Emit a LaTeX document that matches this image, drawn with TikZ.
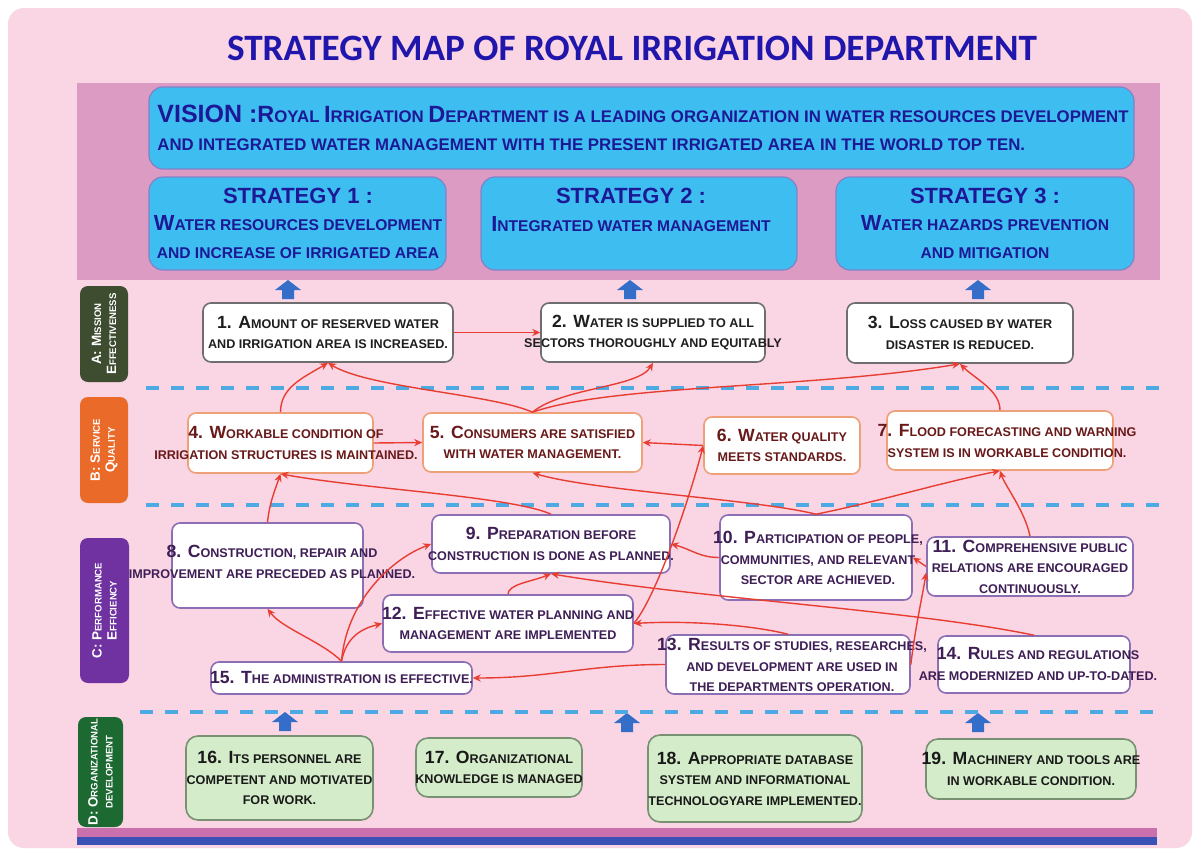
\documentclass[tikz,border=0pt]{standalone}
\usepackage{fontspec}
\setmainfont{Liberation Sans}
\newfontfamily\titlefont{Carlito}
\usetikzlibrary{arrows.meta,fit,calc}
\definecolor{bgpink}{RGB}{250,213,228}
\definecolor{bandpink}{RGB}{219,155,195}
\definecolor{cyanbox}{RGB}{62,190,240}
\definecolor{cyanedge}{RGB}{130,130,200}
\definecolor{navy}{RGB}{28,24,150}
\definecolor{titleblue}{RGB}{32,22,172}
\definecolor{redline}{RGB}{232,62,50}
\definecolor{dashblue}{RGB}{78,170,226}
\definecolor{arrowblue}{RGB}{52,110,200}
\definecolor{labA}{RGB}{62,76,48}
\definecolor{labB}{RGB}{234,106,42}
\definecolor{labC}{RGB}{112,50,160}
\definecolor{labD}{RGB}{28,106,50}
\definecolor{edgeA}{RGB}{110,110,110}
\definecolor{edgeB}{RGB}{238,160,120}
\definecolor{edgeC}{RGB}{140,110,180}
\definecolor{fillD}{RGB}{212,236,202}
\definecolor{edgeD}{RGB}{120,145,115}
\definecolor{txtA}{RGB}{30,30,30}
\definecolor{txtB}{RGB}{105,25,25}
\definecolor{txtC}{RGB}{62,30,85}
\definecolor{txtD}{RGB}{25,25,25}
\definecolor{barpink}{RGB}{202,112,172}
\definecolor{barblue}{RGB}{58,82,182}
\newcommand\Cp[1]{\scalebox{1.4}{#1}}
\newcommand\upblk[2]{\fill[arrowblue,shift={(#1,#2)}] (-6,0) -- (-6,-9) -- (-13,-9) -- (0,-19) -- (13,-9) -- (6,-9) -- (6,0) -- cycle;}
\tikzset{
  boxbase/.style={line width=0.8pt, fill=white, rounded corners=4pt, inner sep=0pt},
  boxA/.style={boxbase, draw=edgeA},
  boxB/.style={boxbase, draw=edgeB},
  boxC/.style={boxbase, draw=edgeC},
  boxD/.style={boxbase, draw=edgeD, fill=fillD, rounded corners=6pt},
  cyanrect/.style={fill=cyanbox, draw=cyanedge, line width=0.6pt, rounded corners=7pt, inner sep=0pt},
  txt/.style={align=center, inner sep=0pt, font=\bfseries\fontsize{6.3}{10.2}\selectfont},
  txtA/.style={txt, text=txtA},
  txtB/.style={txt, text=txtB},
  txtC/.style={txt, text=txtC},
  txtD/.style={txt, text=txtD},
  rel/.style={draw=redline, line width=0.7pt, -{Stealth[length=4pt,width=3.6pt]}},
  sep/.style={dashblue, line width=1.8pt, dash pattern=on 6.5pt off 6pt},
  lab/.style={rounded corners=4pt, inner sep=0pt},
  labtxt/.style={rotate=90, text=white, align=center, inner sep=0pt, font=\bfseries\fontsize{4.8}{7.5}\selectfont},
  strtxt/.style={align=center, inner sep=0pt, text=navy, font=\bfseries\fontsize{7.8}{13.8}\selectfont},
}
\begin{document}
\begin{tikzpicture}[x=0.5pt,y=-0.5pt]
\useasboundingbox (0,0) rectangle (1198,851);
\fill[white] (0,0) rectangle (1198,851);
\fill[bgpink, rounded corners=8pt] (8,8) rectangle (1192,848);
% title
\node[text=titleblue, font=\titlefont\bfseries\fontsize{18.6}{20}\selectfont, inner sep=0pt] (title) at (632,48) {STRATEGY MAP OF ROYAL IRRIGATION DEPARTMENT};
% band
\fill[bandpink] (77,83) rectangle (1160,280);
\node[cyanrect, fit={(149,87)(1134,169)}] (vision) {};
\node[anchor=west, text=navy, align=left, inner sep=0pt, font=\bfseries\fontsize{8.4}{14}\selectfont] (tv) at (157,128)
 {{\fontsize{12.5}{14}\selectfont VISION :}\Cp{R}OYAL \Cp{I}RRIGATION \Cp{D}EPARTMENT IS A LEADING ORGANIZATION IN WATER RESOURCES DEVELOPMENT\\AND INTEGRATED WATER MANAGEMENT WITH THE PRESENT IRRIGATED AREA IN THE WORLD TOP TEN.};
\node[cyanrect, fit={(149,177)(446,270)}] (s1) {};
\node[cyanrect, fit={(481,177)(797,270)}] (s2) {};
\node[cyanrect, fit={(836,177)(1134,270)}] (s3) {};
\node[strtxt] (ts1) at (298,223) {{\fontsize{11}{13.8}\selectfont STRATEGY 1 :}\\\Cp{W}ATER RESOURCES DEVELOPMENT\\AND INCREASE OF IRRIGATED AREA};
\node[strtxt] (ts2) at (631,210) {{\fontsize{11}{13.8}\selectfont STRATEGY 2 :}\\\Cp{I}NTEGRATED WATER MANAGEMENT};
\node[strtxt] (ts3) at (985,223) {{\fontsize{11}{13.8}\selectfont STRATEGY 3 :}\\\Cp{W}ATER HAZARDS PREVENTION\\AND MITIGATION};
% blue arrows
\upblk{288}{299}
\upblk{630}{299}
\upblk{978}{299}
\upblk{285}{731}
\upblk{627}{732}
\upblk{978}{732}
% separators
\draw[sep] (146,388) -- (1160,388);
\draw[sep] (146,505) -- (1160,505);
\draw[sep] (140,712) -- (1160,712);
% bottom bars
\fill[barpink] (77,828) rectangle (1157,837);
\fill[barblue] (77,837) rectangle (1157,845);
% side labels
\node[lab, fill=labA, fit={(80,286)(128,382)}] (la) {};
\node[labtxt] (tla) at (la) {\Cp{A: M}ISSION\\\Cp{E}FFECTIVENESS};
\node[lab, fill=labB, fit={(80,397)(128,503)}] (lb) {};
\node[labtxt] (tlb) at (lb) {\Cp{B: S}ERVICE\\\Cp{Q}UALITY};
\node[lab, fill=labC, fit={(80,538)(129,683)}] (lc) {};
\node[labtxt] (tlc) at (lc) {\Cp{C: P}ERFORMANCE\\\Cp{E}FFICIENCY};
\node[lab, fill=labD, fit={(78,717)(123,827)}] (ld) {};
\node[labtxt] (tld) at (ld) {\Cp{D: O}RGANIZATIONAL\\DEVELOPMENT};
% A level
\node[boxA, fit={(203,303)(453,362)}] (n1) {};
\node[txtA] (t1) at (n1) {\Cp{1. A}MOUNT OF RESERVED WATER\\AND IRRIGATION AREA IS INCREASED.};
\node[boxA, fit={(541,303)(765,362)}] (n2) {};
\node[txtA] (t2) at (n2) {\Cp{2. W}ATER IS SUPPLIED TO ALL\\SECTORS THOROUGHLY AND EQUITABLY};
\node[boxA, fit={(847,303)(1073,363)}] (n3) {};
\node[txtA] (t3) at (n3) {\Cp{3. L}OSS CAUSED BY WATER\\DISASTER IS REDUCED.};
% B level
\node[boxB, fit={(188,413)(373,473)}] (n4) {};
\node[txtB] (t4) at (286,443) {\Cp{4. W}ORKABLE CONDITION OF\\IRRIGATION STRUCTURES IS MAINTAINED.};
\node[boxB, fit={(423,413)(642,472)}] (n5) {};
\node[txtB] (t5) at (n5) {\Cp{5. C}ONSUMERS ARE SATISFIED\\WITH WATER MANAGEMENT.};
\node[boxB, fit={(704,417)(860,474)}] (n6) {};
\node[txtB] (t6) at (n6) {\Cp{6. W}ATER QUALITY\\MEETS STANDARDS.};
\node[boxB, fit={(887,411)(1113,470)}] (n7) {};
\node[txtB] (t7) at (1007,441) {\Cp{7. F}LOOD FORECASTING AND WARNING\\SYSTEM IS IN WORKABLE CONDITION.};
% C level
\node[boxC, fit={(172,523)(363,608)}] (n8) {};
\node[txtC] (t8) at (272,562) {\Cp{8. C}ONSTRUCTION, REPAIR AND\\IMPROVEMENT ARE PRECEDED AS PLANNED.};
\node[boxC, fit={(432,515)(670,573)}] (n9) {};
\node[txtC] (t9) at (n9) {\Cp{9. P}REPARATION BEFORE\\CONSTRUCTION IS DONE AS PLANNED.};
\node[boxC, fit={(720,515)(912,600)}] (n10) {};
\node[txtC] (t10) at (818,558) {\Cp{10. P}ARTICIPATION OF PEOPLE,\\COMMUNITIES, AND RELEVANT\\SECTOR ARE ACHIEVED.};
\node[boxC, fit={(927,537)(1133,596)}] (n11) {};
\node[txtC] (t11) at (n11) {\Cp{11. C}OMPREHENSIVE PUBLIC\\RELATIONS ARE ENCOURAGED\\CONTINUOUSLY.};
\node[boxC, fit={(383,595)(633,652)}] (n12) {};
\node[txtC] (t12) at (n12) {\Cp{12. E}FFECTIVE WATER PLANNING AND\\MANAGEMENT ARE IMPLEMENTED};
\node[boxC, fit={(666,635)(910,694)}] (n13) {};
\node[txtC] (t13) at (792,665) {\Cp{13. R}ESULTS OF STUDIES, RESEARCHES,\\AND DEVELOPMENT ARE USED IN\\THE DEPARTMENTS OPERATION.};
\node[boxC, fit={(938,636)(1130,693)}] (n14) {};
\node[txtC] (t14) at (1038,664) {\Cp{14. R}ULES AND REGULATIONS\\ARE MODERNIZED AND UP-TO-DATED.};
\node[boxC, fit={(211,662)(472,694)}] (n15) {};
\node[txtC] (t15) at (n15) {\Cp{15. T}HE ADMINISTRATION IS EFFECTIVE.};
% D level
\node[boxD, fit={(186,736)(373,820)}] (n16) {};
\node[txtD] (t16) at (n16) {\Cp{16. I}TS PERSONNEL ARE\\COMPETENT AND MOTIVATED\\FOR WORK.};
\node[boxD, fit={(416,738)(582,797)}] (n17) {};
\node[txtD] (t17) at (n17) {\Cp{17. O}RGANIZATIONAL\\KNOWLEDGE IS MANAGED};
\node[boxD, fit={(648,735)(862,822)}] (n18) {};
\node[txtD] (t18) at (n18) {\Cp{18. A}PPROPRIATE DATABASE\\SYSTEM AND INFORMATIONAL\\TECHNOLOGYARE IMPLEMENTED.};
\node[boxD, fit={(926,739)(1136,799)}] (n19) {};
\node[txtD] (t19) at (n19) {\Cp{19. M}ACHINERY AND TOOLS ARE\\IN WORKABLE CONDITION.};
% relations
\draw[rel] (n1.east) -- (n2.west);
\draw[rel] (n4.north) .. controls +(0,-25) and +(-25,15) .. (n1.south);
\draw[rel] (n5.north) .. controls +(-40,-18) and +(40,25) .. (n1.south);
\draw[rel] (n5.north) .. controls +(30,-25) and +(-15,25) .. (n2.south);
\draw[rel] (n5.north) .. controls +(80,-28) and +(-150,25) .. (n3.south);
\draw[rel] (n7.north) .. controls +(0,-20) and +(15,15) .. (n3.south);
\draw[rel] (n4.east) -- (n5.west);
\draw[rel] (n6.west) -- (n5.east);
\draw[rel] (n8.north) .. controls +(2,-20) and +(-5,15) .. (n4.south);
\draw[rel] (n9.north) .. controls +(-40,-18) and +(80,15) .. (n4.south);
\draw[rel] (n10.north) .. controls +(-60,-15) and +(60,18) .. (n5.south);
\draw[rel] (n10.north) .. controls +(60,-12) and +(-60,12) .. (n7.south);
\draw[rel] (n11.north) .. controls +(-5,-25) and +(5,15) .. (n7.south);
\draw[rel] (n12.east) .. controls +(25,-30) and +(-10,40) .. (n6.west);
\draw[rel] (n10.west) .. controls +(-20,0) and +(20,5) .. (n9.east);
\draw[rel] (n11.west) -- (n10.east);
\draw[rel] (n13.east) .. controls +(5,-40) and +(-5,30) .. ($(n11.west)+(0,6)$);
\draw[rel] (n12.north) .. controls +(0,-10) and +(-20,8) .. (n9.south);
\draw[rel] (n14.north) .. controls +(-120,-25) and +(150,25) .. (n9.south);
\draw[rel] (n15.north) .. controls +(-20,-20) and +(15,20) .. (n8.south);
\draw[rel] (n15.north) .. controls +(5,-60) and +(-40,15) .. (n9.west);
\draw[rel] (n15.north) .. controls +(5,-25) and +(-20,5) .. (n12.west);
\draw[rel] (n13.west) .. controls +(-80,0) and +(80,0) .. (n15.east);
\draw[rel] (n13.north) .. controls +(-40,-10) and +(50,-3) .. (n12.east);
\end{tikzpicture}
\end{document}
